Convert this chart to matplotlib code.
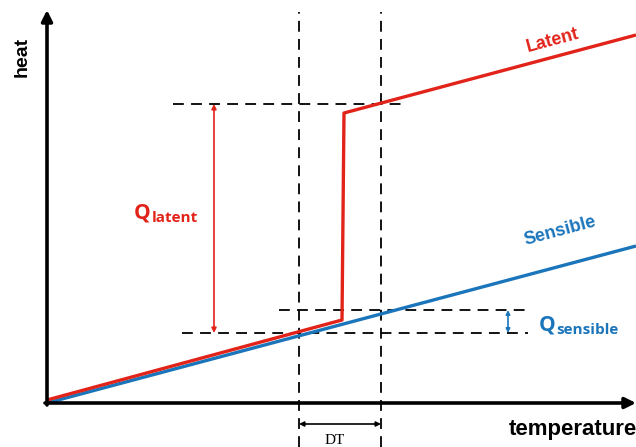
import matplotlib.pyplot as plt

# ---------------------------------------------------------------
# DATA (temperature / heat in arbitrary units, origin lower-left)
# ---------------------------------------------------------------
origin = (47, 44)

sensible_temp = [47, 636]
sensible_heat = [44, 201]

latent_temp = [47, 342, 344, 636]
latent_heat = [47, 127, 334, 412]

# phase change window (DT) and reference heat levels
dt_start, dt_end = 299, 381
q_low, q_mid, q_high = 114, 137, 343

RED = '#e2231a'
BLUE = '#1b75bb'

fig = plt.figure(figsize=(6.36, 4.47), dpi=100)
ax = fig.add_axes([0, 0, 1, 1])
ax.set_xlim(0, 636)
ax.set_ylim(0, 447)
ax.axis('off')

# axes with arrow heads
ax.annotate('', xy=(636, origin[1]), xytext=(origin[0] - 2, origin[1]),
            arrowprops=dict(arrowstyle='-|>', color='black', lw=2.6,
                            mutation_scale=16, shrinkA=0, shrinkB=0))
ax.annotate('', xy=(origin[0], 437), xytext=(origin[0], origin[1] - 2),
            arrowprops=dict(arrowstyle='-|>', color='black', lw=2.6,
                            mutation_scale=16, shrinkA=0, shrinkB=0))

# dashed guide lines
dash = dict(color='black', lw=1.3, ls=(0, (6, 4)))
ax.plot([dt_start, dt_start], [0, 435], **dash)
ax.plot([dt_end, dt_end], [0, 435], **dash)
ax.plot([173, 407], [q_high, q_high], **dash)
ax.plot([182, 528], [q_low, q_low], **dash)
ax.plot([279, 528], [q_mid, q_mid], **dash)

# curves
ax.plot(sensible_temp, sensible_heat, color=BLUE, lw=2.4, solid_capstyle='butt')
ax.plot(latent_temp, latent_heat, color=RED, lw=2.4, solid_capstyle='butt')

# Q latent arrow
ax.annotate('', xy=(214, q_high), xytext=(214, q_low),
            arrowprops=dict(arrowstyle='<|-|>', color=RED, lw=1.2,
                            mutation_scale=7, shrinkA=0, shrinkB=0))
# Q sensible arrow
ax.annotate('', xy=(508, q_mid), xytext=(508, q_low),
            arrowprops=dict(arrowstyle='<|-|>', color=BLUE, lw=1.2,
                            mutation_scale=6, shrinkA=0, shrinkB=0))
# DT arrow
ax.annotate('', xy=(dt_end, 23), xytext=(dt_start, 23),
            arrowprops=dict(arrowstyle='<|-|>', color='black', lw=1.2,
                            mutation_scale=7, shrinkA=0, shrinkB=0))

# labels
ax.text(22, 390, 'heat', rotation=90, ha='center', va='center',
        fontsize=14, fontweight='bold', family='Liberation Sans')
ax.text(637, 17, 'temperature', ha='right', va='center',
        fontsize=16, fontweight='bold', family='Liberation Sans')
ax.text(335, 6, 'DT', ha='center', va='center', fontsize=11,
        family='Liberation Serif')

ax.text(553, 406, 'Latent', rotation=15, ha='center', va='center',
        fontsize=13, fontweight='bold', color=RED, family='Liberation Sans')
ax.text(560, 216, 'Sensible', rotation=15, ha='center', va='center',
        fontsize=13, fontweight='bold', color=BLUE, family='Liberation Sans')

ax.text(134, 229, 'Q', ha='left', va='baseline', fontsize=15,
        fontweight='bold', color=RED, family='Open Sans')
ax.text(152, 225, 'latent', ha='left', va='baseline', fontsize=11,
        fontweight='bold', color=RED, family='Open Sans')
ax.text(539, 117, 'Q', ha='left', va='baseline', fontsize=15,
        fontweight='bold', color=BLUE, family='Open Sans')
ax.text(556, 113, 'sensible', ha='left', va='baseline', fontsize=11,
        fontweight='bold', color=BLUE, family='Open Sans')

fig.savefig('out.png', dpi=100)
